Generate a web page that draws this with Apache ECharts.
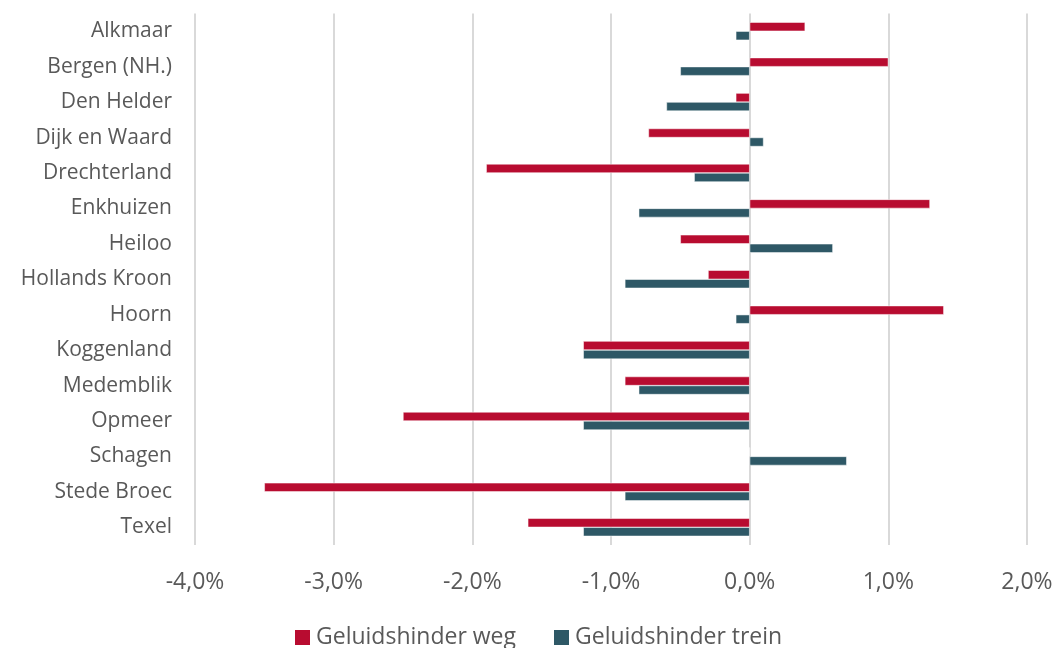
<!DOCTYPE html>
<html><head><meta charset="utf-8">
<script src="https://cdn.jsdelivr.net/npm/echarts@6/dist/echarts.min.js"></script>
<style>html,body{margin:0;padding:0;background:#fff}#c{width:1059px;height:648px}</style>
</head><body><div id="c"></div>
<script>
const categories = ['Alkmaar','Bergen (NH.)','Den Helder','Dijk en Waard','Drechterland','Enkhuizen','Heiloo','Hollands Kroon','Hoorn','Koggenland','Medemblik','Opmeer','Schagen','Stede Broec','Texel'];
const weg = [0.4, 1.0, -0.1, -0.73, -1.9, 1.3, -0.5, -0.3, 1.4, -1.2, -0.9, -2.5, 0, -3.5, -1.6];
const trein = [-0.1, -0.5, -0.6, 0.1, -0.4, -0.8, 0.6, -0.9, -0.1, -1.2, -0.8, -1.2, 0.7, -0.9, -1.2];
const xTicks = {min: -4, max: 2, interval: 1};

const chart = echarts.init(document.getElementById('c'), null, {renderer: 'canvas'});
const font = '"Open Sans", sans-serif';
chart.setOption({
  animation: false,
  grid: {left: 195, right: 32, top: 13.5, bottom: 103, containLabel: false},
  legend: {
    left: 290, top: 621, itemWidth: 15, itemHeight: 15, itemGap: 38, icon: 'rect',
    itemStyle: {borderWidth: 0},
    textStyle: {fontFamily: font, fontSize: 23, color: '#595959', padding: [0,0,0,1]},
    data: ['Geluidshinder weg', 'Geluidshinder trein']
  },
  xAxis: {
    type: 'value', min: xTicks.min, max: xTicks.max, interval: xTicks.interval,
    axisLine: {show: false}, axisTick: {show: false},
    splitLine: {show: true, lineStyle: {color: '#d9d9d9', width: 2}},
    axisLabel: {fontFamily: font, fontSize: 23, color: '#595959', margin: 26,
      formatter: v => v.toFixed(1).replace('.', ',') + '%'}
  },
  yAxis: {
    type: 'category', data: categories, inverse: true,
    axisLine: {show: false}, axisTick: {show: false},
    axisLabel: {fontFamily: font, fontSize: 21, color: '#595959', margin: 23}
  },
  series: [
    {name: 'Geluidshinder weg', type: 'bar', data: weg, barWidth: 9, barGap: '0%',
     itemStyle: {color: '#B80C30', borderColor: '#fff', borderWidth: 0.5}},
    {name: 'Geluidshinder trein', type: 'bar', data: trein, barWidth: 9, barGap: '0%',
     itemStyle: {color: '#2E5866', borderColor: '#fff', borderWidth: 0.5}}
  ]
});
</script></body></html>
